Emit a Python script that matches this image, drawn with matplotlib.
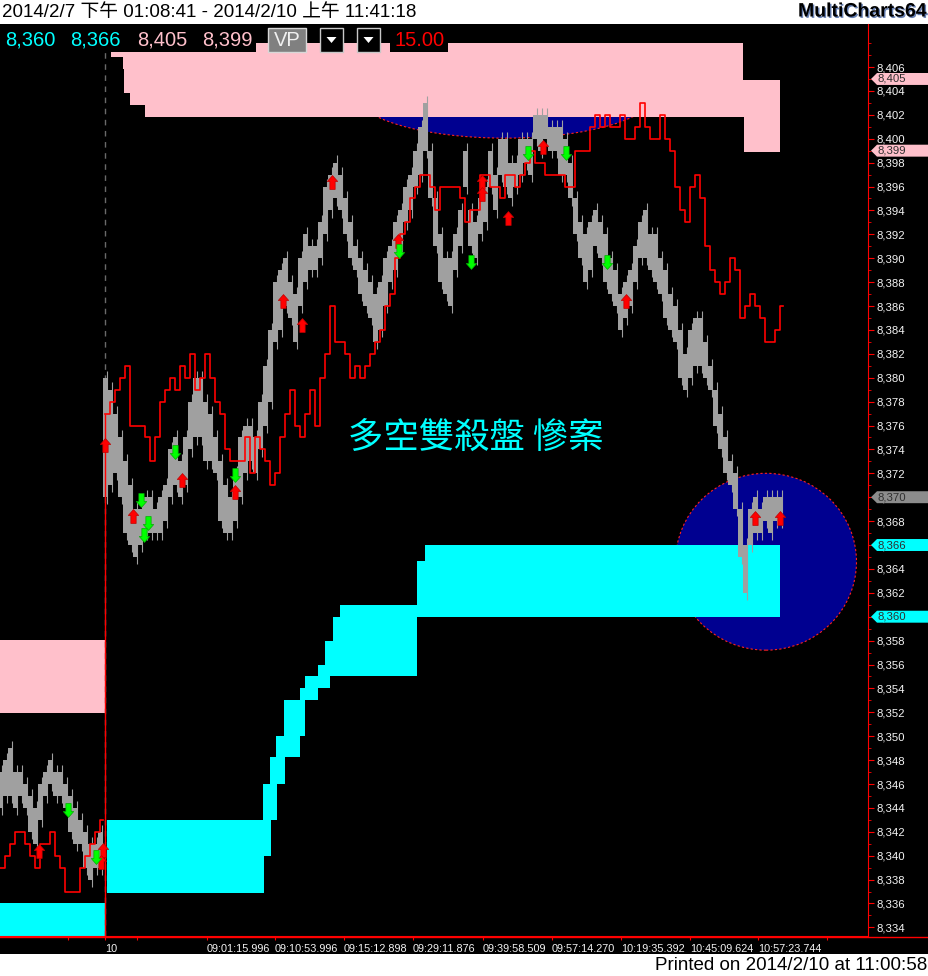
import matplotlib
matplotlib.use('Agg')
import matplotlib.pyplot as plt
import numpy as np
from matplotlib.patches import Rectangle, Ellipse, Polygon
from matplotlib.path import Path
import matplotlib.patheffects as pe

plt.rcParams['font.family'] = ['Liberation Sans', 'Noto Sans CJK TC', 'DejaVu Sans']

W, H = 929, 976

# ---------------- data ----------------
# previous session (bar index 0..100, step 5)
prev_gray_lo = [8344, 8345, 8345, 8344, 8345, 8344, 8342, 8341, 8343, 8345,
                8346, 8345, 8345, 8344, 8342, 8341, 8341, 8339, 8338, 8339, 8339]
prev_gray_hi = [8347, 8348, 8349, 8347, 8347, 8346, 8345, 8344, 8346, 8347,
                8348, 8347, 8347, 8346, 8345, 8344, 8343, 8342, 8341, 8341, 8342]
prev_red = [8339, 8340, 8341, 8342, 8342, 8341, 8340, 8339, 8341, 8341,
            8342, 8340, 8339, 8337, 8337, 8337, 8339, 8340, 8341, 8342, 8343]

# current session (bar index 105..780, step 5)
gray_lo = [8370, 8371, 8372, 8370, 8367, 8366, 8365, 8366, 8367, 8367,
           8367, 8367, 8368, 8370, 8371, 8370, 8371, 8374, 8375, 8375,
           8373, 8373, 8372, 8368, 8367, 8367, 8368, 8370, 8372, 8373,
           8372, 8374, 8376, 8378, 8383, 8384, 8386, 8385, 8383, 8386,
           8388, 8389, 8389, 8390, 8392, 8394, 8395, 8394, 8392, 8390,
           8389, 8387, 8386, 8385, 8383, 8384, 8386, 8388, 8389, 8391,
           8393, 8394, 8396, 8397, 8399, 8395, 8391, 8388, 8387, 8386,
           8389, 8391, 8396, 8391, 8390, 8392, 8393, 8396, 8394, 8397,
           8396, 8395, 8396, 8397, 8398, 8397, 8400, 8399, 8400, 8399,
           8399, 8397, 8397, 8395, 8392, 8390, 8388, 8389, 8391, 8390,
           8388, 8387, 8386, 8384, 8385, 8386, 8388, 8390, 8390, 8389,
           8388, 8387, 8385, 8384, 8383, 8380, 8379, 8380, 8381, 8381,
           8380, 8379, 8376, 8374, 8372, 8371, 8369, 8365, 8362, 8366,
           8367, 8367, 8368, 8367, 8368, 8368]
gray_hi = [8380, 8379, 8377, 8375, 8373, 8371, 8369, 8369, 8370, 8370,
           8369, 8370, 8371, 8374, 8375, 8373, 8375, 8378, 8380, 8380,
           8378, 8377, 8375, 8373, 8371, 8370, 8372, 8375, 8376, 8376,
           8375, 8378, 8381, 8384, 8388, 8389, 8390, 8388, 8387, 8390,
           8392, 8391, 8391, 8393, 8396, 8397, 8398, 8397, 8395, 8393,
           8391, 8390, 8389, 8388, 8387, 8388, 8390, 8391, 8393, 8394,
           8396, 8397, 8399, 8401, 8403, 8399, 8395, 8392, 8390, 8390,
           8392, 8394, 8399, 8394, 8393, 8395, 8396, 8399, 8397, 8400,
           8400, 8398, 8398, 8400, 8400, 8400, 8402, 8402, 8402, 8401,
           8401, 8401, 8400, 8398, 8395, 8393, 8392, 8393, 8394, 8393,
           8392, 8390, 8389, 8387, 8388, 8389, 8391, 8393, 8394, 8392,
           8392, 8390, 8389, 8387, 8386, 8384, 8382, 8384, 8385, 8385,
           8383, 8381, 8379, 8377, 8375, 8373, 8372, 8369, 8366, 8369,
           8370, 8369, 8370, 8370, 8370, 8370]
red = [8377, 8378, 8379, 8380, 8381, 8376, 8376, 8376, 8375, 8373,
       8375, 8378, 8379, 8380, 8379, 8381, 8380, 8382, 8379, 8380,
       8382, 8380, 8378, 8377, 8374, 8373, 8373, 8373, 8375, 8372,
       8375, 8374, 8373, 8371, 8372, 8375, 8377, 8379, 8376, 8375,
       8377, 8379, 8376, 8380, 8382, 8386, 8383, 8383, 8382, 8380,
       8381, 8380, 8381, 8382, 8383, 8384, 8386, 8387, 8390, 8392,
       8393, 8395, 8396, 8397, 8397, 8396, 8394, 8396, 8396, 8396,
       8396, 8395, 8393, 8394, 8394, 8397, 8397, 8396, 8396, 8395,
       8397, 8397, 8396, 8397, 8398, 8399, 8398, 8398, 8397, 8397,
       8397, 8397, 8396, 8396, 8399, 8399, 8399, 8401, 8402, 8401,
       8402, 8401, 8401, 8402, 8400, 8400, 8401, 8403, 8401, 8400,
       8400, 8402, 8400, 8399, 8396, 8394, 8393, 8396, 8397, 8395,
       8391, 8389, 8388, 8387, 8388, 8390, 8389, 8385, 8386, 8387,
       8386, 8385, 8383, 8383, 8384, 8386]

# signal arrows (bar index, price)
buy_x = [39, 103, 101, 105, 133, 182, 235, 283, 302, 332, 398, 482, 482, 508, 543, 626, 755, 780]
buy_y = [8340.4, 8340.5, 8339.5, 8374.4, 8368.4, 8371.4, 8370.4, 8386.4, 8384.4, 8396.4,
         8391.4, 8396.4, 8395.4, 8393.4, 8399.3, 8386.4, 8368.3, 8368.3]
sell_x = [68, 96, 141, 148, 144, 175, 235, 399, 471, 528, 566, 607]
sell_y = [8343.8, 8339.9, 8369.8, 8367.8, 8366.8, 8373.8, 8371.9, 8390.6, 8389.7, 8398.8,
          8398.8, 8389.7]

# volume-profile value areas: (price low, price high, bar from, bar to)
pink_rows = [(8406.8, 8408.0, 111, 743), (8405.8, 8406.8, 123, 743),
             (8404.9, 8405.8, 124, 743), (8403.8, 8404.9, 124, 780),
             (8402.8, 8403.8, 130, 780), (8401.8, 8402.8, 145, 780),
             (8398.9, 8401.8, 744, 780), (8351.9, 8358.05, 0, 105)]
cyan_rows = [(8336.9, 8340.0, 107, 264), (8340.0, 8343.0, 107, 271),
             (8343.0, 8346.0, 263, 277), (8346.0, 8348.3, 270, 285),
             (8348.3, 8350.0, 276, 300), (8350.0, 8353.0, 284, 305),
             (8353.0, 8354.0, 300, 318), (8354.0, 8355.0, 305, 330),
             (8355.0, 8356.0, 318, 417), (8356.0, 8358.0, 325, 417),
             (8358.0, 8360.0, 333, 417), (8360.0, 8361.0, 340, 780),
             (8361.0, 8364.7, 417, 780), (8364.7, 8366.0, 425, 780),
             (8333.0, 8336.0, 0, 106)]

# highlight ellipses: (center bar, center price, width bars, height price)
ellipses = [(505, 8403.8, 300, 7.5), (766, 8364.6, 181, 14.8)]

# axis
y_ticks = list(range(8334, 8407, 2))
x_tick_pos = [68, 105, 137, 207, 275, 344, 413, 483, 552, 621, 690, 758, 827]
x_tick_lab = ['', '10', '', '09:01:15.996', '09:10:53.996', '09:15:12.898', '09:29:11.876',
              '09:39:58.509', '09:57:14.270', '10:19:35.392', '10:45:09.624', '10:57:23.744', '']
tag_vals = [8405, 8399, 8370, 8366, 8360]
tag_cols = ['#ffc0cb', '#ffc0cb', '#8c8c8c', '#00ffff', '#00ffff']

header = '2014/2/7 下午 01:08:41 - 2014/2/10 上午 11:41:18'
status_vals = ['8,360', '8,366', '8,405', '8,399']
status_cols = ['#00ffff', '#00ffff', '#ffc0cb', '#ffc0cb']
title_cn = '多空雙殺盤 慘案'

# ---------------- figure ----------------
fig = plt.figure(figsize=(W / 100, H / 100), dpi=100)
fig.patch.set_facecolor('white')

def fx(px):
    return px / W

def fy(py):
    return 1 - py / H

# black chart band
fig.add_artist(Rectangle((0, fy(954)), 1, (954 - 24) / H, transform=fig.transFigure,
                         facecolor='black', edgecolor='none', zorder=-5))

YMIN, YMAX = 8333.28, 8409.6
ax = fig.add_axes([0, fy(936), fx(868), (936 - 24) / H])
ax.set_facecolor('black')
ax.set_xlim(0, 868)
ax.set_ylim(YMIN, YMAX)

# ellipses
for cx, cy, w, h in ellipses:
    ax.add_patch(Ellipse((cx, cy), w, h, facecolor='#000090', edgecolor='#ff2020',
                         lw=0.8, ls=(0, (2, 2)), zorder=1))

# profiles
for lo, hi, a, b in pink_rows:
    ax.barh(lo, b - a, height=hi - lo, left=a, align='edge', color='#ffc0cb', lw=0, zorder=2)
for lo, hi, a, b in cyan_rows:
    ax.barh(lo, b - a, height=hi - lo, left=a, align='edge', color='#00ffff', lw=0, zorder=2)

# session separator
ax.axvline(105.5, color='#6a6a6a', lw=1, ls=(0, (4, 4)), zorder=2.5)
ax.vlines(105, YMIN, red[0], color='red', lw=1, zorder=3.5)

# gray price bars
px_prev = np.arange(len(prev_gray_lo)) * 5
px_today = 105 + np.arange(len(gray_lo)) * 5
for xs, lo, hi in ((px_prev, prev_gray_lo, prev_gray_hi), (px_today, gray_lo, gray_hi)):
    lo = np.array(lo); hi = np.array(hi)
    ax.bar(xs, hi - lo, bottom=lo, width=3.6, color='#a0a0a0', lw=0, zorder=3)
    ax.vlines(xs + 2, lo - 0.6, hi + 0.6, color='#a0a0a0', lw=0.8, zorder=3)

# red line
ax.step(np.append(px_prev, 103), np.append(prev_red, prev_red[-1]), where='post',
        color='red', lw=1.2, zorder=4)
ax.step(np.append(px_today, 783), np.append(red, red[-1]), where='post',
        color='red', lw=1.2, zorder=4)

# arrows
up = Path([(0, 1), (-0.75, 0.15), (-0.38, 0.15), (-0.38, -1), (0.38, -1), (0.38, 0.15),
           (0.75, 0.15), (0, 1)], [Path.MOVETO] + [Path.LINETO] * 6 + [Path.CLOSEPOLY])
down = Path([(x, -y) for x, y in up.vertices], up.codes)
ax.plot(buy_x, buy_y, ls='none', marker=up, ms=10, mfc='#ff0000', mec='#c00000', mew=0.5, zorder=5)
ax.plot(sell_x, sell_y, ls='none', marker=down, ms=10, mfc='#00ff00', mec='#00b000', mew=0.5, zorder=5)

ax.text(348, 8375, title_cn, color='#00ffff', fontsize=25.5, va='center', ha='left',
        family=['Noto Sans CJK TC'], fontweight='light', zorder=6)

# axes styling
for s in ('top', 'left'):
    ax.spines[s].set_visible(False)
ax.spines['right'].set_color('red')
ax.spines['bottom'].set_color('red')
ax.yaxis.tick_right()
ax.set_yticks(y_ticks)
ax.set_yticklabels([f'{v:,}' for v in y_ticks])
ax.set_yticks(range(8334, 8409), minor=True)
ax.tick_params(axis='y', which='major', length=4, color='red', labelcolor='#f4f4f4',
               labelsize=8.2, pad=2)
ax.tick_params(axis='y', which='minor', length=2, color='red')
ax.set_xticks(x_tick_pos)
ax.set_xticklabels(x_tick_lab, ha='left')
ax.tick_params(axis='x', length=3, color='red', labelcolor='#f4f4f4', labelsize=7.8, pad=2.5)

fig.add_artist(plt.Line2D([0, 1], [fy(936.5), fy(936.5)], transform=fig.transFigure,
                          color='red', lw=1, zorder=3))

# price tags on the right
tag_ax = fig.add_axes([fx(868), fy(936), fx(61), (936 - 24) / H])
tag_ax.set_xlim(0, 61)
tag_ax.set_ylim(YMIN, YMAX)
tag_ax.axis('off')
for v, c in zip(tag_vals, tag_cols):
    tag_ax.add_patch(Polygon([(3, v), (9, v + 0.5), (61, v + 0.5), (61, v - 0.5), (9, v - 0.5)],
                             closed=True, facecolor=c, edgecolor='none'))
    tag_ax.text(10, v, f'{v:,}', fontsize=8.2, color='#303030', va='center', ha='left')

# header
fig.text(fx(2), fy(12), header, fontsize=13.5, color='black', va='center', ha='left')
fig.text(fx(927), fy(12), 'MultiCharts64', fontsize=14, fontweight='bold', color='black',
         va='center', ha='right',
         path_effects=[pe.withSimplePatchShadow(offset=(1, -1), shadow_rgbFace='#4060a0', alpha=0.8)])
fig.text(fx(927), fy(966), 'Printed on 2014/2/10 at 11:00:58', fontsize=13.5, color='black',
         va='center', ha='right')

def frect(x0, y0, x1, y1, **kw):
    fig.add_artist(Rectangle((fx(x0), fy(y1)), fx(x1 - x0), (y1 - y0) / H,
                             transform=fig.transFigure, **kw))

frect(0, 24, 256, 52, facecolor='black', edgecolor='none', zorder=4)
frect(390, 24, 448, 52, facecolor='black', edgecolor='none', zorder=4)
for x0, v, c in zip([5, 70, 137, 202], status_vals, status_cols):
    fig.text(fx(x0), fy(40), v, fontsize=14.5, color=c, va='center', ha='left', zorder=5)
frect(268, 28, 306, 52, facecolor='#808080', edgecolor='#d8d8d8', lw=1, zorder=4)
fig.text(fx(287), fy(40), 'VP', fontsize=14.5, color='#f0f0f0', va='center', ha='center', zorder=5)
for x0 in (320, 357):
    frect(x0, 28, x0 + 23, 52, facecolor='black', edgecolor='#c8c8c8', lw=1, zorder=4)
    cxp = x0 + 11.5
    fig.add_artist(Polygon([(fx(cxp - 5), fy(37)), (fx(cxp + 5), fy(37)), (fx(cxp), fy(43))],
                           closed=True, transform=fig.transFigure, facecolor='white',
                           edgecolor='none', zorder=5))
fig.text(fx(394), fy(40), '15.00', fontsize=14.5, color='#ff0000', va='center', ha='left', zorder=5)

fig.savefig('out.png', dpi=100, facecolor='white')
